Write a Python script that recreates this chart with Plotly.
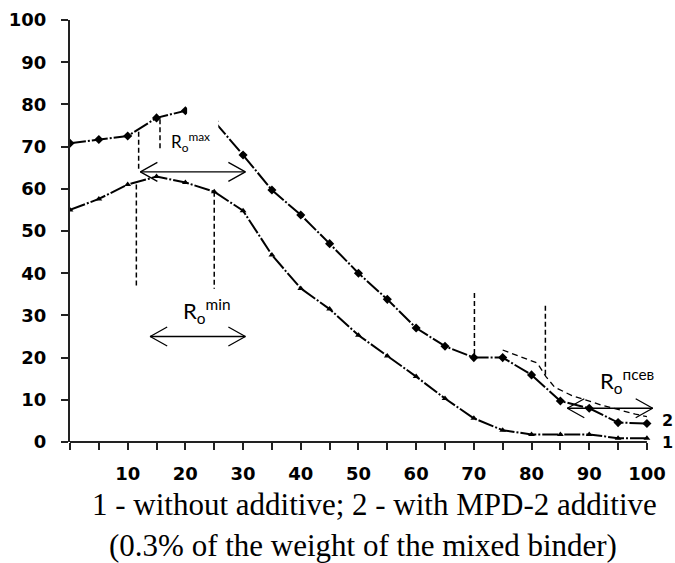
import plotly.graph_objects as go

# ---------------- data ----------------
x_vals = [0, 5, 10, 15, 20, 25, 30, 35, 40, 45, 50, 55, 60, 65, 70, 75, 80, 85, 90, 95, 100]
curve1 = [55, 57.6, 61, 62.9, 61.5, 59.3, 54.8, 44.3, 36.4, 31.5, 25.3, 20.4, 15.5, 10.3, 5.6, 2.8, 1.8, 1.8, 1.8, 0.9, 0.9]
curve2 = [70.8, 71.7, 72.5, 76.8, 78.5, 76, 68, 59.7, 53.8, 47, 40, 33.8, 27, 22.7, 20, 20, 15.9, 9.7, 8, 4.6, 4.4]

env_x = [75, 81, 82.5, 84, 87, 92, 98, 100]
env_y = [21.8, 18.7, 15.5, 13, 11, 8.8, 6.6, 6]

# vertical dashed guide lines: x, y_from, y_to
guide_x = [11.9, 11.5, 15.6, 25.0, 70.1, 82.4]
guide_y0 = [73.5, 61.0, 76.5, 59.3, 35.3, 32.3]
guide_y1 = [64.3, 36.5, 69.5, 36.3, 20.0, 15.5]

# double arrows: x_left, x_right, y
arrow_x0 = [12.2, 13.9, 86.2]
arrow_x1 = [30.4, 30.4, 101.0]
arrow_y = [64.0, 25.0, 8.0]

label_text = ["R<sub>o</sub><sup>max</sup>", "R<sub>o</sub><sup>min</sup>", "R<sub>o</sub><sup>псев</sup>"]
label_x = [20.8, 23.6, 96.6]
label_y = [71.0, 31.0, 14.5]
label_size = [17, 22, 22]

x_tickvals = list(range(0, 101, 5))
x_ticktext = [str(v) if (v % 10 == 0 and v > 0) else "" for v in x_tickvals]
y_tickvals = list(range(0, 101, 10))

caption1 = "1 - without additive; 2 - with MPD-2 additive"
caption2 = "(0.3% of the weight of the mixed binder)"

# ---------------- figure ----------------
W, H = 675, 563
ML, MR, MT, MB = 70, 5, 20, 121
XMAX = 104.0
px_per_x = (W - ML - MR) / XMAX
px_per_y = (H - MT - MB) / 100.0

fig = go.Figure()

line_dash = "16px,2px,2px,2px"
fig.add_trace(go.Scatter(
    x=x_vals, y=curve1, mode="lines+markers",
    line=dict(color="black", width=2, dash=line_dash),
    marker=dict(symbol="triangle-up", size=6, color="black"),
    showlegend=False, hoverinfo="skip"))
fig.add_trace(go.Scatter(
    x=x_vals, y=curve2, mode="lines+markers",
    line=dict(color="black", width=2, dash=line_dash),
    marker=dict(symbol="diamond", size=7, color="black"),
    showlegend=False, hoverinfo="skip"))
fig.add_trace(go.Scatter(
    x=env_x, y=env_y, mode="lines",
    line=dict(color="black", width=1.3, dash="6px,4px"),
    showlegend=False, hoverinfo="skip"))

for gx, g0, g1 in zip(guide_x, guide_y0, guide_y1):
    fig.add_trace(go.Scatter(
        x=[gx, gx], y=[g0, g1], mode="lines",
        line=dict(color="black", width=1.5, dash="5px,3px"),
        showlegend=False, hoverinfo="skip"))

# arrows with open chevron heads
hx = 17 / px_per_x
hy = 9.5 / px_per_y
for a0, a1, ay in zip(arrow_x0, arrow_x1, arrow_y):
    xs = [a0, a1, None, a0 + hx, a0, a0 + hx, None, a1 - hx, a1, a1 - hx]
    ys = [ay, ay, None, ay + hy, ay, ay - hy, None, ay + hy, ay, ay - hy]
    fig.add_trace(go.Scatter(
        x=xs, y=ys, mode="lines", line=dict(color="black", width=1.3),
        showlegend=False, hoverinfo="skip", cliponaxis=False))

# white box hiding part of curve 2 near the R_o^max label
fig.add_shape(type="rect", xref="x", yref="y", x0=20.3, x1=25.7, y0=74.3, y1=81,
              fillcolor="white", line=dict(width=0), layer="above")

# x axis line (only 0..100)
fig.add_shape(type="line", xref="x", yref="paper", x0=0, x1=100, y0=0, y1=0,
              line=dict(color="#222", width=2))

for t, lx, ly, ls in zip(label_text, label_x, label_y, label_size):
    fig.add_annotation(x=lx, y=ly, xref="x", yref="y", text=t, showarrow=False,
                       font=dict(family="Lato", size=ls, color="black"),
                       xanchor="center", yanchor="middle")

fig.add_annotation(x=103.6, y=5.2, xref="x", yref="y", text="<b>2</b>", showarrow=False,
                   font=dict(family="DejaVu Sans", size=16, color="black"))
fig.add_annotation(x=103.6, y=0.0, xref="x", yref="y", text="<b>1</b>", showarrow=False,
                   font=dict(family="DejaVu Sans", size=16, color="black"))

fig.add_annotation(x=0.507, y=(442 - 504) / 422, xref="paper", yref="paper", text=caption1,
                   showarrow=False, font=dict(family="Liberation Serif", size=31, color="black"),
                   xanchor="center", yanchor="middle")
fig.add_annotation(x=0.488, y=(442 - 545) / 422, xref="paper", yref="paper", text=caption2,
                   showarrow=False, font=dict(family="Liberation Serif", size=31, color="black"),
                   xanchor="center", yanchor="middle")

tick_font = dict(family="DejaVu Sans", size=18, color="black", weight="bold")
fig.update_layout(
    width=W, height=H,
    margin=dict(l=ML, r=MR, t=MT, b=MB, autoexpand=False),
    plot_bgcolor="white", paper_bgcolor="white",
    xaxis=dict(range=[0, XMAX], showgrid=False, zeroline=False, showline=False,
               automargin=False,
               tickmode="array", tickvals=x_tickvals, ticktext=x_ticktext,
               ticks="outside", ticklen=7, tickwidth=1.5, tickcolor="#222",
               ticklabelstandoff=8, tickfont=tick_font),
    yaxis=dict(range=[0, 100], showgrid=False, zeroline=False, showline=True,
               automargin=False,
               linecolor="#222", linewidth=2,
               tickmode="array", tickvals=y_tickvals,
               ticks="outside", ticklen=7, tickwidth=1.5, tickcolor="#222",
               ticklabelstandoff=11, tickfont=tick_font),
)

fig.write_html("out.html",
               config={"displayModeBar": False},
               post_script="document.body.style.margin='0px';document.body.style.overflow='hidden';")
